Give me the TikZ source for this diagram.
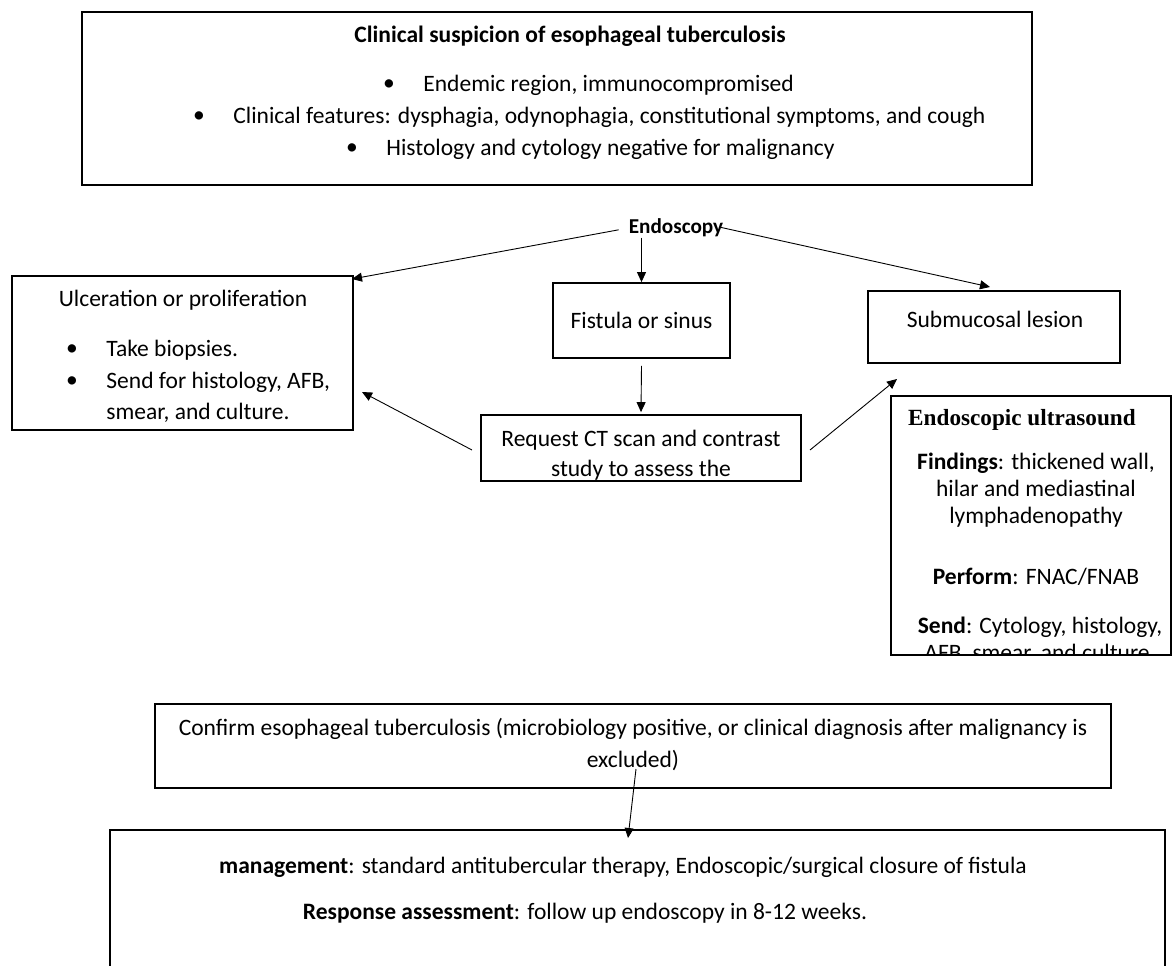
\documentclass[tikz,border=0pt]{standalone}
\usepackage{fontspec}
\setmainfont{Carlito}
\newfontfamily\eusfont{Liberation Serif}
\usetikzlibrary{arrows.meta, fit, positioning}

\newcommand{\bodysize}{\fontsize{11.76}{16}\selectfont}

\begin{document}
\begin{tikzpicture}[x=0.5pt, y=-0.5pt,
  box/.style={draw, line width=0.9pt, inner sep=0pt},
  txt/.style={font=\bodysize, inner sep=0pt},
  >={Triangle[length=5pt, width=4.5pt]},
  arr/.style={->, line width=0.45pt}]

  \useasboundingbox (0,0) rectangle (1172,965);

  % Clinical suspicion
  \node[box, fit={(82,12) (1032,185)}] (suspicion) {};
  \node[txt, font=\bodysize\bfseries] (title) at (570,36) {Clinical suspicion of esophageal tuberculosis};
  \node[txt] (dotA) at (389,85) {•};
  \node[txt] (dotB) at (199,117) {•};
  \node[txt] (dotC) at (352,149) {•};
  \node[txt, anchor=west] (endemic) at (423,85) {Endemic region, immunocompromised};
  \node[txt, anchor=west] (features) at (233,117) {Clinical features: dysphagia, odynophagia, constitutional symptoms, and cough};
  \node[txt, anchor=west] (histology) at (386,149) {Histology and cytology negative for malignancy};

  % Endoscopy
  \node[txt, font=\fontsize{10.6}{12}\selectfont\bfseries] (endo) at (676,228) {Endoscopy};

  % Ulceration or proliferation
  \node[box, fit={(12,276) (353,430)}] (ulcer) {};
  \node[txt] (ulcertitle) at (183,300) {Ulceration or proliferation};
  \node[txt] (dot1) at (72,350) {•};
  \node[txt] (dot2) at (72,382) {•};
  \node[txt, anchor=west] (biopsy) at (106,350) {Take biopsies.};
  \node[txt, anchor=west] (sendfor) at (106,382) {Send for histology, AFB,};
  \node[txt, anchor=west] (smear) at (106,413) {smear, and culture.};

  % Fistula or sinus
  \node[box, fit={(553,283) (730,358)}] (fistula) {};
  \node[txt] at (fistula) {Fistula or sinus};

  % Submucosal lesion
  \node[box, fit={(868,291) (1120,363)}] (submucosal) {};
  \node[txt] at (995,319) {Submucosal lesion};

  % Request CT scan
  \node[box, fit={(481,415) (801,481)}] (ct) {};
  \begin{scope}
    \clip (481,415) rectangle (801,480);
    \node[txt, align=center, font=\fontsize{11.76}{15}\selectfont] (cttext) at (641,470) {Request CT scan and contrast\\study to assess the\\esophagus};
  \end{scope}

  % Endoscopic ultrasound
  \node[box, fit={(891,396) (1171,655)}] (eus) {};
  \begin{scope}
    \clip (891,396) rectangle (1171,654);
    \node[inner sep=0pt, font=\eusfont\fontsize{11.6}{14}\selectfont\bfseries] (eustitle) at (1022,420) {Endoscopic ultrasound};
    \node[txt, align=center, font=\fontsize{11.76}{13.5}\selectfont] (findings) at (1036,490) {\textbf{Findings}: thickened wall,\\hilar and mediastinal\\lymphadenopathy};
    \node[txt] (perform) at (1036,577) {\textbf{Perform}: FNAC/FNAB};
    \node[txt, align=center, font=\fontsize{11.76}{13.5}\selectfont] (sendto) at (1040,640) {\textbf{Send}: Cytology, histology,\\AFB, smear, and culture.};
  \end{scope}

  % Confirm
  \node[box, fit={(155,704) (1111,788)}] (confirm) {};
  \node[txt, align=center] (confirmtext) at (633,745) {Confirm esophageal tuberculosis (microbiology positive, or clinical diagnosis after malignancy is\\excluded)};

  % Management
  \node[box, fit={(110,830) (1165,990)}] (manage) {};
  \node[txt] (mgmt) at (623,867) {\textbf{management}: standard antitubercular therapy, Endoscopic/surgical closure of fistula};
  \node[txt] (response) at (585,913) {\textbf{Response assessment}: follow up endoscopy in 8-12 weeks.};

  % arrows
  \coordinate (ulcercorner) at (352,279);
  \coordinate (subtop) at (990,287);
  \coordinate (ctleft) at (472,450);
  \coordinate (ctright) at (810,450);
  \coordinate (ulcerside) at (362,392);
  \coordinate (subbottom) at (897,379);
  \coordinate (confirmfoot) at (636,769);
  \coordinate (managetop) at (628,838);

  \draw[arr, shorten <=5pt] (endo.west) -- (ulcercorner);
  \draw[arr] (endo.south -| fistula.north) -- (fistula.north);
  \draw[arr, shorten <=-2pt] (endo.east) -- (subtop);
  \draw[arr] ([yshift=-3.5pt]fistula.south) -- ([yshift=1pt]ct.north);
  \draw[arr] (ctleft) -- (ulcerside);
  \draw[arr] (ctright) -- (subbottom);
  \draw[arr] (confirmfoot) -- (managetop);
\end{tikzpicture}
\end{document}
